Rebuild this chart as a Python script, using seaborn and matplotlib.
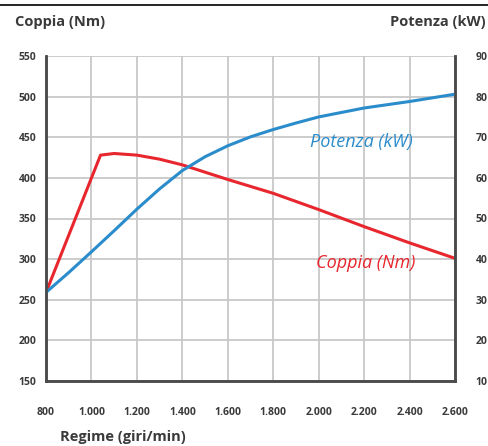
import matplotlib
matplotlib.use("Agg")
import matplotlib.pyplot as plt
import seaborn as sns
import pandas as pd
from matplotlib.lines import Line2D

# engine curves
coppia_rpm = [800, 1040, 1100, 1200, 1300, 1400, 1500, 1600, 1800, 2000, 2200, 2400, 2600]
coppia_nm = [259, 428, 430, 428, 423, 416, 407, 398, 381, 361, 340, 320, 301]
potenza_rpm = [800, 900, 1000, 1100, 1200, 1300, 1400, 1500, 1600, 1700, 1800, 1900,
               2000, 2200, 2400, 2600]
potenza_kw = [31.8, 36.7, 41.8, 47.0, 52.3, 57.3, 61.8, 65.2, 67.9, 70.1, 71.9, 73.5,
              75.0, 77.2, 78.8, 80.6]

x_ticks = [800, 1000, 1200, 1400, 1600, 1800, 2000, 2200, 2400, 2600]
x_labels = ["800", "1.000", "1.200", "1.400", "1.600", "1.800", "2.000", "2.200", "2.400", "2.600"]
nm_ticks = [150, 200, 250, 300, 350, 400, 450, 500, 550]
kw_ticks = [10, 20, 30, 40, 50, 60, 70, 80, 90]

red = "#e8262e"
blue = "#2b8ccc"
grid_c = "#c8c8c8"
text_c = "#3a3a3a"

sns.set_style("white")
plt.rcParams["font.family"] = ["Open Sans", "DejaVu Sans"]

df_c = pd.DataFrame({"rpm": coppia_rpm, "nm": coppia_nm})
df_p = pd.DataFrame({"rpm": potenza_rpm, "kw": potenza_kw})

fig = plt.figure(figsize=(4.88, 4.46), dpi=100)
ax = fig.add_axes([46 / 488, 1 - 381 / 446, 409 / 488, 325 / 446])
ax2 = ax.twinx()

sns.lineplot(data=df_c, x="rpm", y="nm", ax=ax, color=red, linewidth=2.2)
sns.lineplot(data=df_p, x="rpm", y="kw", ax=ax2, color=blue, linewidth=2.2)

ax.set_xlim(800, 2600)
ax.set_ylim(150, 550)
ax2.set_ylim(10, 90)

ax.set_xticks(x_ticks)
ax.set_xticklabels(x_labels)
ax.set_yticks(nm_ticks)
ax2.set_yticks(kw_ticks)

for a in (ax, ax2):
    a.tick_params(length=0, labelsize=7.5, labelcolor=text_c)
    a.set_xlabel("")
    a.set_ylabel("")
ax.tick_params(axis="x", pad=19)
ax.tick_params(axis="y", pad=7)
ax2.tick_params(axis="y", pad=15)
for lab in ax.get_xticklabels() + ax.get_yticklabels() + ax2.get_yticklabels():
    lab.set_fontweight("bold")

ax.grid(True, color=grid_c, linewidth=1.3)
ax.set_axisbelow(True)

for a in (ax, ax2):
    a.spines["top"].set_visible(False)
    for s in ("left", "bottom", "right"):
        a.spines[s].set_color("#4a4a4a")
        a.spines[s].set_linewidth(1.8)

ax.text(2190, 444, "Potenza (kW)", color=blue, fontsize=13, style="italic",
        ha="center", va="center")
ax.text(2205, 295, "Coppia (Nm)", color=red, fontsize=13, style="italic",
        ha="center", va="center")

fig.text(15 / 488, 1 - 22 / 446, "Coppia (Nm)", fontsize=10.5, fontweight="bold",
         color=text_c, ha="left", va="center")
fig.text(486 / 488, 1 - 22 / 446, "Potenza (kW)", fontsize=10.5, fontweight="bold",
         color=text_c, ha="right", va="center")
fig.text(60 / 488, 1 - 437 / 446, "Regime (giri/min)", fontsize=10.5, fontweight="bold",
         color=text_c, ha="left", va="center")

fig.add_artist(Line2D([0, 1], [1 - 5 / 446, 1 - 5 / 446], transform=fig.transFigure,
                      color="black", linewidth=1.2))

fig.savefig("out.png", dpi=100)
